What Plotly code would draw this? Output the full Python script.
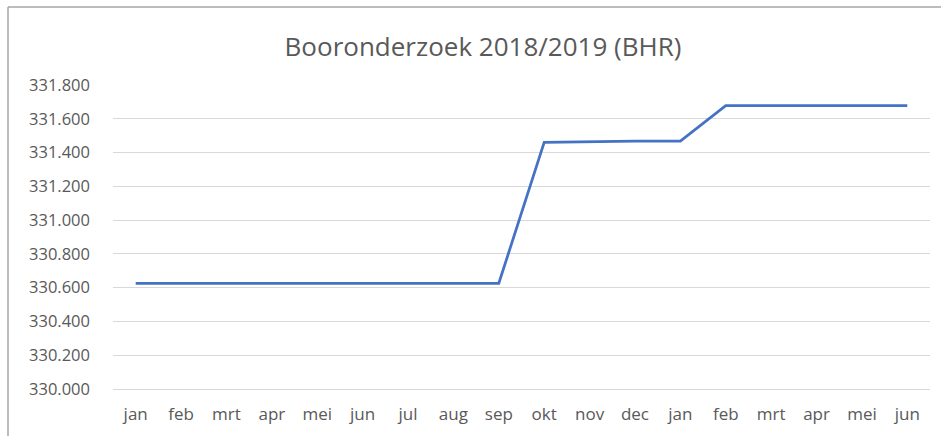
import plotly.graph_objects as go

months = ["jan", "feb", "mrt", "apr", "mei", "jun", "jul", "aug", "sep",
          "okt", "nov", "dec", "jan", "feb", "mrt", "apr", "mei", "jun"]
values = [330626, 330626, 330626, 330626, 330626, 330626, 330626, 330626, 330626,
          331460, 331465, 331467, 331468, 331678, 331678, 331678, 331678, 331678]
title_text = "Booronderzoek 2018/2019 (BHR)"

x_idx = list(range(len(months)))

fig = go.Figure()
fig.add_trace(go.Scatter(
    x=x_idx, y=values, mode="lines",
    line=dict(color="#4472C4", width=2.75),
    hoverinfo="skip", showlegend=False,
))

W, H = 941, 436
ml, mr, mt, mb = 113, 11, 85, 45
pw, ph = W - ml - mr, H - mt - mb

def px_x(x):
    return (x - ml) / pw

def px_y(y):
    return (H - mb - y) / ph

fig.update_layout(
    width=W, height=H,
    margin=dict(l=ml, r=mr, t=mt, b=mb, pad=0),
    paper_bgcolor="white", plot_bgcolor="white",
    separators=",.",
    font=dict(family="Open Sans, Liberation Sans, sans-serif", color="#595959", size=17),
    title=dict(text=title_text, x=483 / W, xanchor="center", xref="container",
               y=1 - 47 / H, yanchor="middle", yref="container",
               font=dict(size=26, color="#595959")),
    xaxis=dict(
        tickmode="array", tickvals=x_idx, ticktext=months,
        range=[-0.5, len(months) - 0.5],
        showgrid=False, zeroline=False, showline=True,
        linecolor="#D9D9D9", linewidth=1, ticks="",
        tickfont=dict(size=17, color="#595959"),
        ticklabelstandoff=10,
    ),
    yaxis=dict(
        range=[330000, 331800], dtick=200, tick0=330000,
        tickformat=",.0f",
        showgrid=True, gridcolor="#D9D9D9", gridwidth=1,
        zeroline=False, showline=False, ticks="",
        tickfont=dict(size=16.5, color="#595959"),
        ticklabelstandoff=22,
    ),
    shapes=[
        dict(type="line", xref="paper", yref="paper",
             x0=px_x(8), x1=px_x(8), y0=px_y(6.5), y1=px_y(H + 5),
             line=dict(color="#A6A6A6", width=1.5)),
        dict(type="line", xref="paper", yref="paper",
             x0=px_x(8), x1=px_x(W + 5), y0=px_y(6.5), y1=px_y(6.5),
             line=dict(color="#A6A6A6", width=1.5)),
    ],
)

fig.write_html("out.html",
               config={"displayModeBar": False, "staticPlot": True},
               post_script="document.body.style.margin='0';document.body.style.overflow='hidden';")
